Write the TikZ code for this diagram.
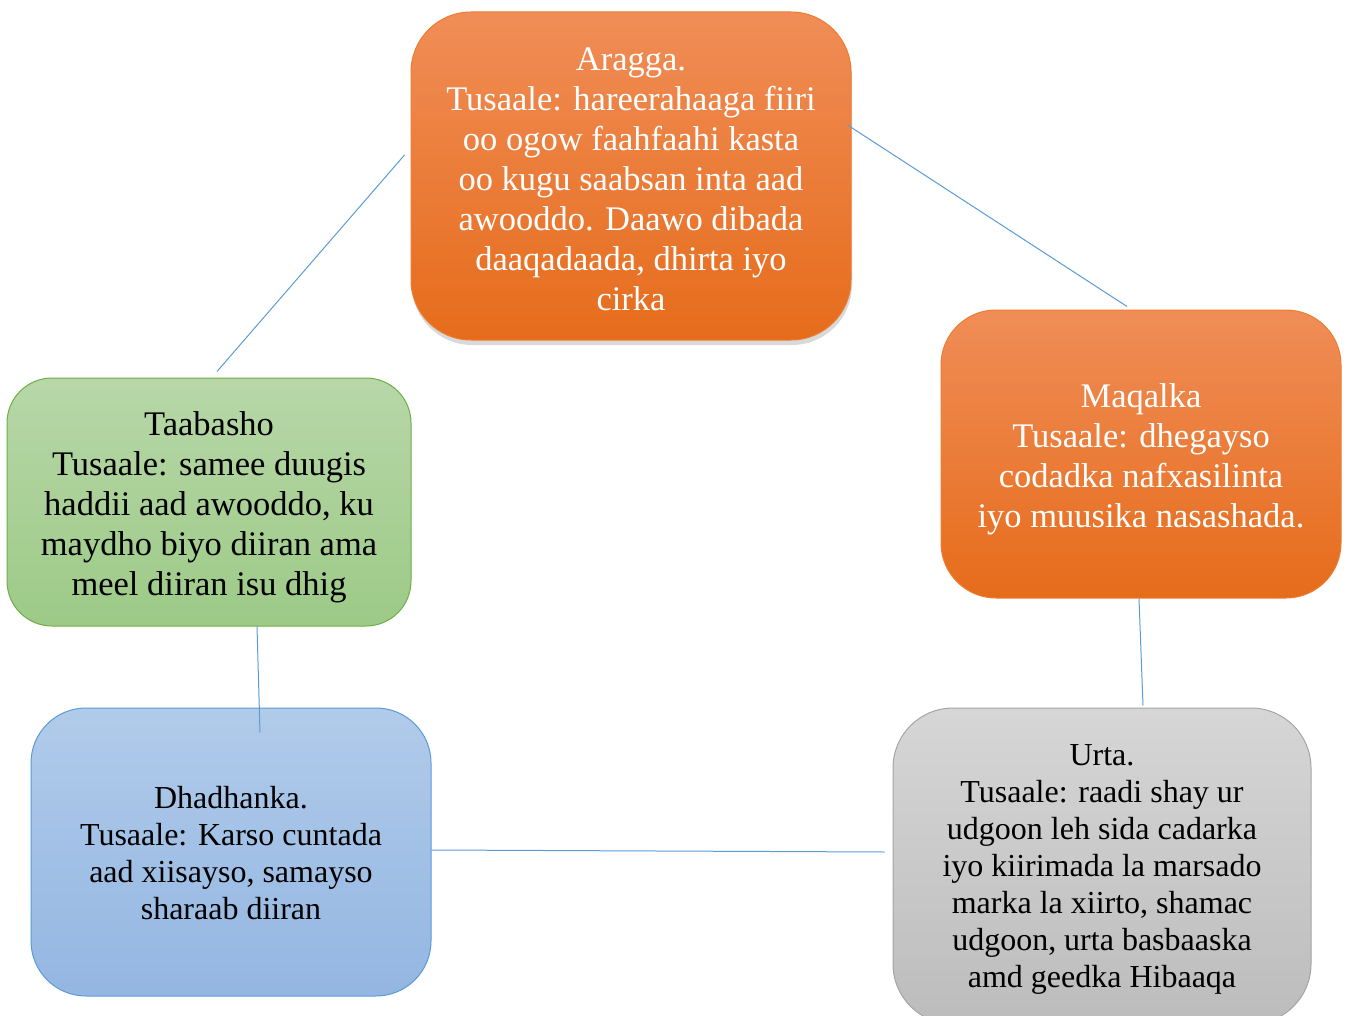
\documentclass[tikz,border=0pt]{standalone}
\usepackage{fontspec}
\setmainfont{Liberation Serif}
\usepackage{tikz}
\usetikzlibrary{shadows}
\definecolor{orangetop}{HTML}{F08D57}
\definecolor{orangebot}{HTML}{E66C1B}
\definecolor{orangeline}{HTML}{ED7D31}
\definecolor{greentop}{HTML}{B7D7A8}
\definecolor{greenbot}{HTML}{9DCA87}
\definecolor{greenline}{HTML}{70AD47}
\definecolor{bluetop}{HTML}{B1CBEA}
\definecolor{bluebot}{HTML}{93B6E2}
\definecolor{blueline}{HTML}{5B9BD5}
\definecolor{graytop}{HTML}{D6D6D6}
\definecolor{graybot}{HTML}{BCBCBC}
\definecolor{grayline}{HTML}{A5A5A5}
\newcommand{\lowr}[1]{\rule{0pt}{#1}}
\tikzstyle{box} = [draw,rounded corners=55pt,align=center,inner sep=0pt,line width=1pt,font=\fontsize{34.5}{40}\selectfont]
\tikzstyle{orangebox} = [box,top color=orangetop,bottom color=orangebot,draw=orangeline,text=white]
\tikzstyle{greenbox} = [box,top color=greentop,bottom color=greenbot,draw=greenline]
\tikzstyle{bluebox} = [box,top color=bluetop,bottom color=bluebot,draw=blueline,font=\fontsize{32}{37}\selectfont]
\tikzstyle{graybox} = [box,top color=graytop,bottom color=graybot,draw=grayline,font=\fontsize{32}{37}\selectfont]
\tikzstyle{link} = [draw=blueline,line width=1pt]

\begin{document}
\begin{tikzpicture}[x=1pt,y=-1pt]
    \useasboundingbox (0,0) rectangle (1349,1016);
    \node[orangebox, rounded corners=60pt, minimum width=440pt, minimum height=328pt,
          drop shadow={shadow xshift=1pt, shadow yshift=-5pt, opacity=0.3}] at (631,176) (aragga)
          {\lowr{30pt}Aragga.\\Tusaale: hareerahaaga fiiri\\oo ogow faahfaahi kasta\\oo kugu saabsan inta aad\\awooddo. Daawo dibada\\daaqadaada, dhirta iyo\\cirka};
    \node[orangebox, minimum width=400pt, minimum height=288pt] at (1141,454) (maqalka)
          {\lowr{34pt}Maqalka\\Tusaale: dhegayso\\codadka nafxasilinta\\iyo muusika nasashada.};
    \node[greenbox, rounded corners=45pt, minimum width=404pt, minimum height=248pt] at (209,502) (taabasho)
          {\lowr{34pt}Taabasho\\Tusaale: samee duugis\\haddii aad awooddo, ku\\maydho biyo diiran ama\\meel diiran isu dhig};
    \node[bluebox, minimum width=400pt, minimum height=288pt] at (231,852) (dhadhanka)
          {\lowr{24pt}Dhadhanka.\\Tusaale: Karso cuntada\\aad xiisayso, samayso\\sharaab diiran};
    \node[graybox, rounded corners=60pt, minimum width=418pt, minimum height=316pt] at (1102,866) (urta)
          {\lowr{28pt}Urta.\\Tusaale: raadi shay ur\\udgoon leh sida cadarka\\iyo kiirimada la marsado\\marka la xiirto, shamac\\udgoon, urta basbaaska\\amd geedka Hibaaqa};

    \draw[link] ([shift={(-6,-21)}]aragga.west) -- ([shift={(8,-6)}]taabasho.north);
    \draw[link] ([shift={(-4,-51)}]aragga.east) -- ([shift={(-14,-3)}]maqalka.north);
    \draw[link] ([shift={(-2,0)}]maqalka.south) -- ([shift={(41,-2)}]urta.north);
    \draw[link] ([shift={(-8,-14)}]urta.west) -- ([shift={(0,-2)}]dhadhanka.east);
    \draw[link] ([shift={(48,0)}]taabasho.south) -- ([shift={(29,25)}]dhadhanka.north);
\end{tikzpicture}
\end{document}
